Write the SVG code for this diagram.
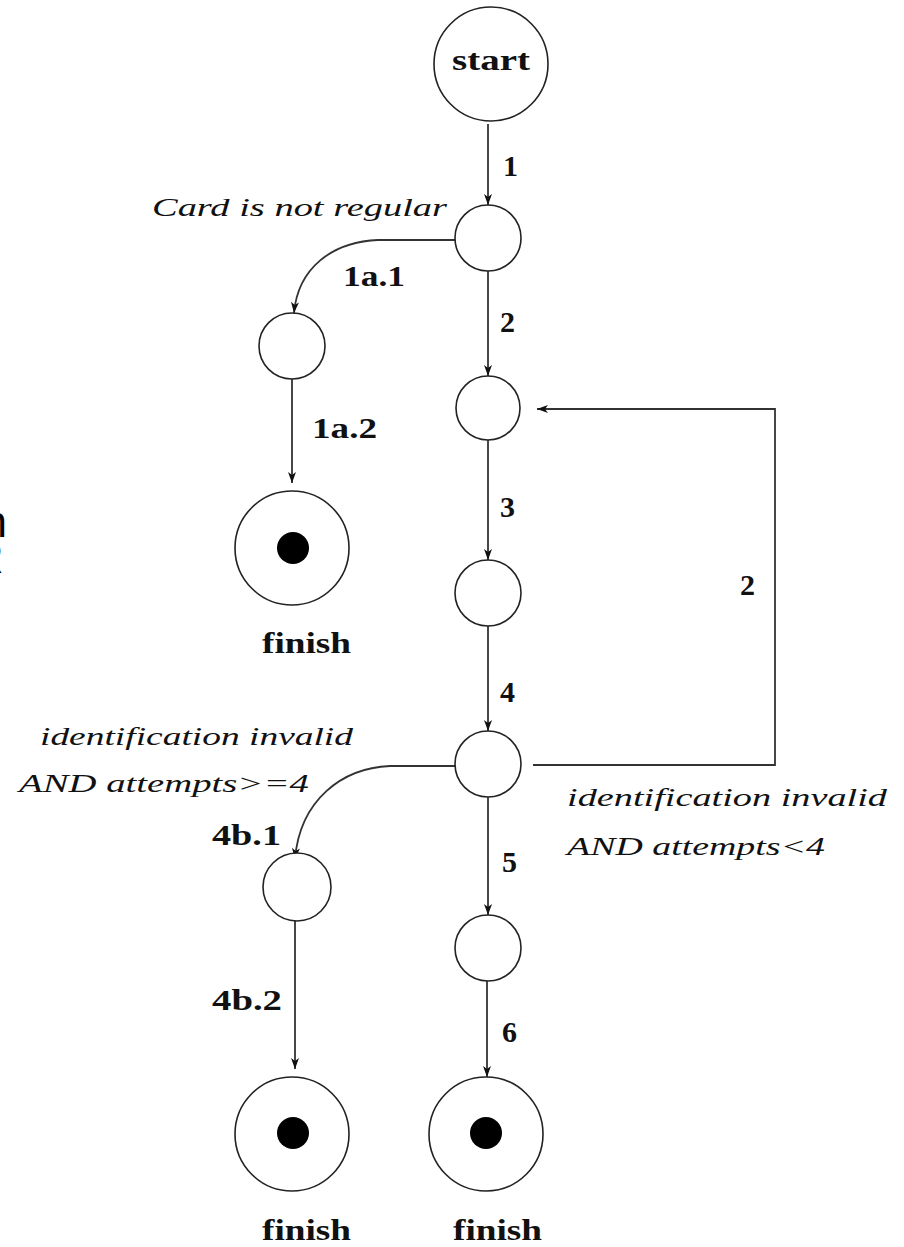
<svg xmlns="http://www.w3.org/2000/svg" width="904" height="1247" viewBox="0 0 904 1247">
<style>
.node{fill:#fff;stroke:#222;stroke-width:1.6}
.dot{fill:#000}
.edge{fill:none;stroke:#333;stroke-width:1.8}
.lbl{font-family:"Liberation Serif",serif;font-weight:bold;font-size:30px;fill:#111}
.cond{font-family:"Liberation Serif",serif;font-style:italic;font-size:25px;fill:#111}
.cut{font-family:"Liberation Sans",sans-serif;font-size:44px;fill:#000}
</style>
<defs>
<marker id="arr" markerUnits="userSpaceOnUse" markerWidth="12" markerHeight="10" refX="11" refY="4" orient="auto">
<path d="M0,0 L11,4 L0,8 L3,4 z" fill="#111"/>
</marker>
</defs>
<rect width="904" height="1247" fill="#fff"/>
<text class="cut" x="7" y="537" text-anchor="end">n</text>
<text class="cut" x="3.5" y="573" text-anchor="end">R</text>
<g id="connectors">
<line class="edge" x1="488" y1="124" x2="488" y2="205" marker-end="url(#arr)"/>
<line class="edge" x1="488" y1="271" x2="488" y2="376" marker-end="url(#arr)"/>
<line class="edge" x1="488" y1="440" x2="488" y2="560" marker-end="url(#arr)"/>
<line class="edge" x1="488" y1="626" x2="488" y2="731" marker-end="url(#arr)"/>
<line class="edge" x1="488" y1="797" x2="488" y2="915" marker-end="url(#arr)"/>
<line class="edge" x1="487" y1="981" x2="487" y2="1077" marker-end="url(#arr)"/>
<line class="edge" x1="292" y1="379" x2="292" y2="483" marker-end="url(#arr)"/>
<line class="edge" x1="295" y1="921" x2="295" y2="1069" marker-end="url(#arr)"/>
<path class="edge" d="M455,240 H378 C332,242 298,268 294,313" marker-end="url(#arr)"/>
<path class="edge" d="M455,766 H390 C342,768 300,800 295,859" marker-end="url(#arr)"/>
<path class="edge" d="M533,765 H775 V409 H537" marker-end="url(#arr)"/>
</g>
<g id="start"><circle class="node" cx="491" cy="64" r="57"/><text class="lbl" x="452" y="70" textLength="78" lengthAdjust="spacingAndGlyphs">start</text></g>
<g id="n1"><circle class="node" cx="488" cy="238" r="33"/></g>
<g id="n1a"><circle class="node" cx="292" cy="346" r="33"/></g>
<g id="finish1"><circle class="node" cx="292" cy="548" r="57"/><circle class="dot" cx="293" cy="548" r="16"/><text class="lbl" x="262" y="653" textLength="89" lengthAdjust="spacingAndGlyphs">finish</text></g>
<g id="n2"><circle class="node" cx="488" cy="408" r="32"/></g>
<g id="n3"><circle class="node" cx="488" cy="593" r="33"/></g>
<g id="n4"><circle class="node" cx="488" cy="764" r="33"/></g>
<g id="n4b"><circle class="node" cx="297" cy="887" r="34"/></g>
<g id="n5"><circle class="node" cx="488" cy="948" r="33"/></g>
<g id="finish2"><circle class="node" cx="292" cy="1134" r="57"/><circle class="dot" cx="293" cy="1133" r="16"/><text class="lbl" x="262" y="1240" textLength="89" lengthAdjust="spacingAndGlyphs">finish</text></g>
<g id="finish3"><circle class="node" cx="486" cy="1134" r="57"/><circle class="dot" cx="486" cy="1133" r="16"/><text class="lbl" x="453" y="1240" textLength="89" lengthAdjust="spacingAndGlyphs">finish</text></g>
<g id="labels">
<text class="lbl" x="503" y="176" font-size="32">1</text>
<text class="cond" x="152" y="216" textLength="295" lengthAdjust="spacingAndGlyphs">Card is not regular</text>
<text class="lbl" x="343" y="286" textLength="62" lengthAdjust="spacingAndGlyphs">1a.1</text>
<text class="lbl" x="500" y="332">2</text>
<text class="lbl" x="312" y="438" textLength="65" lengthAdjust="spacingAndGlyphs">1a.2</text>
<text class="lbl" x="500" y="517">3</text>
<text class="lbl" x="740" y="595">2</text>
<text class="lbl" x="500" y="702">4</text>
<text class="cond" x="40" y="745" textLength="313" lengthAdjust="spacingAndGlyphs">identification invalid</text>
<text class="cond" x="19" y="792" textLength="290" lengthAdjust="spacingAndGlyphs">AND attempts&gt;=4</text>
<text class="lbl" x="212" y="845" textLength="69" lengthAdjust="spacingAndGlyphs">4b.1</text>
<text class="cond" x="567" y="806" textLength="320" lengthAdjust="spacingAndGlyphs">identification invalid</text>
<text class="cond" x="567" y="855" textLength="258" lengthAdjust="spacingAndGlyphs">AND attempts&lt;4</text>
<text class="lbl" x="502" y="872">5</text>
<text class="lbl" x="212" y="1010" textLength="70" lengthAdjust="spacingAndGlyphs">4b.2</text>
<text class="lbl" x="502" y="1042">6</text>
</g>
</svg>
